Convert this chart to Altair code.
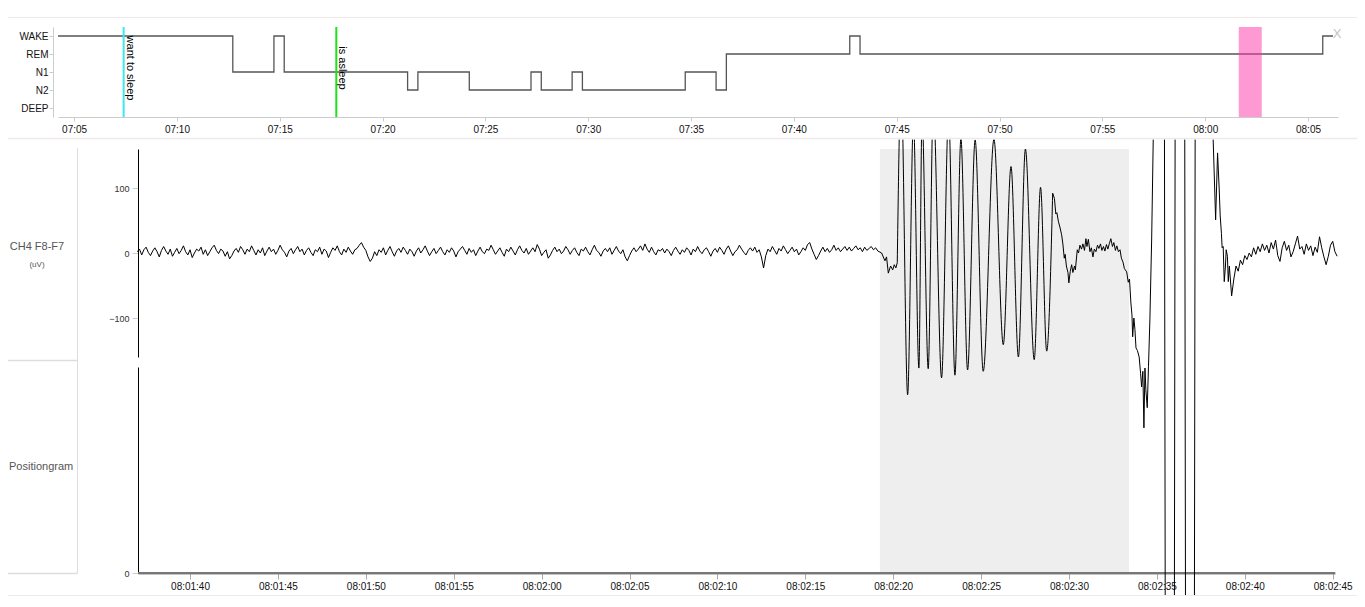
import altair as alt
import pandas as pd

FONT = "Liberation Sans"
W, H = 1349, 591
DAY = "2024-01-01"

# ---------------- hypnogram (top panel) ----------------
hyp_times = ["07:04:13", "07:12:43", "07:14:43", "07:15:13", "07:21:13", "07:21:43",
             "07:24:13", "07:27:13", "07:27:43", "07:29:13", "07:29:43", "07:34:43",
             "07:36:13", "07:36:43", "07:42:43", "07:43:13", "08:05:43", "08:06:13"]
hyp_stages = ["WAKE", "N1", "WAKE", "N1", "N2", "N1",
              "N2", "N1", "N2", "N1", "N2", "N1",
              "N2", "REM", "WAKE", "REM", "WAKE", "WAKE"]
stage_order = ["WAKE", "REM", "N1", "N2", "DEEP"]

marker_times = ["07:07:24.500", "07:17:45.000"]
marker_labels = ["want to sleep", "is asleep"]
marker_colors = ["#3de6f0", "#1be21b"]

top_window = ["08:01:38.000", "08:02:45.000"]
top_tick_minutes = [(7, 5), (7, 10), (7, 15), (7, 20), (7, 25), (7, 30), (7, 35),
                    (7, 40), (7, 45), (7, 50), (7, 55), (8, 0), (8, 5)]
low_tick_seconds = [(1, 40), (1, 45), (1, 50), (1, 55), (2, 0), (2, 5), (2, 10),
                    (2, 15), (2, 20), (2, 25), (2, 30), (2, 35), (2, 40), (2, 45)]

# ---------------- EEG CH4 F8-F7 (uV), seconds relative to 08:02:20 ----------------
eeg_base_start_s = -43.0
eeg_step_s = 0.125
eeg_base_uv = [
    2, 6, -3, 5, 9, 1, -4, 3, 8, 2, -6, 4, 10, 3, -2, 6, -5, 1, 7, -1,
    4, 11, 2, -3, 5, -7, 0, 6, 3, 9, -2, 5, -4, 2, 8, 12, 4, -1, 6, 3,
    -5, 2, -9, -4, 3, 7, 1, 10, 5, -2, 6, 2, 11, 4, -3, 5, 0, 8, -4, 3,
    9, 2, 6, -2, 4, 12, 5, 1, -6, 3, 7, -1, 5, 10, 2, 6, -3, 4, 8, 1,
    -4, 5, 2, 9, -2, 6, 3, -7, 1, 8, 4, 11, 2, -3, 6, 1, 9, 3, -2, 5,
    7, 12, 16, 9, 4, -6, -13, -8, 2, -4, 5, 1, 8, -3, 4, 10, 2, -5, 3, 7,
    1, 9, 4, -2, 6, 2, -5, 3, 8, 0, 5, 11, 3, -4, 2, 7, -1, 4, 9, 2,
    -3, 5, 1, 8, 3, -6, 2, 6, 10, 4, -2, 7, 1, 5, -4, 3, 9, 2, -1, 6,
    4, 12, 5, -2, 3, 8, 1, -5, 6, 2, 9, 3, -3, 5, 11, 4, 0, 7, -2, 3,
    8, 2, 13, 6, -4, 1, 5, -8, -3, 4, 9, 2, 6, -1, 3, 10, 5, -2, 4, 8,
    1, -4, 6, 3, 9, 2, -3, 5, 12, 4, 1, -5, 3, 7, 2, 8, -2, 4, 10, 3,
    -1, 5, -6, -12, -4, 3, 8, 2, 6, 11, 4, 14, 6, 1, 9, 2, -3, 5, 3, 7,
    0, 6, 2, -4, 4, 9, 3, -2, 5, 1, 8, 4, -3, 6, 2, 10, 3, -1, 5, 8,
    2, -5, 3, 7, 1, 9, 4, -2, 6, 11, 3, -4, 2, 5, 12, 6, 1, -3, 4, 8,
    3, 9, 1, 5, -6, -23, -4, 6, 2, 10, 4, -2, 7, 3, 11, 5, -1, 4, 9, 2,
    6, -3, 2, 8, 4, 13, 16, 6, -2, -10, -4, 3, 9, 2, 7, 1, 5, 12, 4, 8,
    2, 6, 10, 4, 9, 3, 7, 11, 5, 8, 2, 9, 4, 7, 10, 5, 8, 3]
eeg_pre_s = [-0.66, -0.47, -0.38, -0.28, -0.15, -0.03, 0.06, 0.15, 0.23]
eeg_pre_uv = [0, -12, -6, -31, -20, -26, -18, -23, -15]
eeg_osc_s = [0.23, 0.45, 0.82, 1.15, 1.46, 1.64, 1.99, 2.28, 2.75, 3.15, 3.51, 3.85,
             4.23, 4.66, 5.12, 5.73, 6.26, 6.70, 7.12, 7.52, 8.02, 8.38, 8.73, 9.07]
eeg_osc_uv = [-15, 260, -218, 205, -177, 210, -178, 230, -192, 215, -188, 176,
              -180, 174, -182, 175, -141, 133, -160, 160, -164, 101, -151, 92]
eeg_post_s = [9.07, 9.17, 9.25, 9.31, 9.40, 9.48, 9.58, 9.65, 9.73, 9.78, 9.85, 9.94,
              9.99, 10.07, 10.15, 10.22, 10.31, 10.36, 10.47, 10.54, 10.62, 10.71, 10.79,
              10.88, 10.96, 11.02, 11.10, 11.19, 11.27, 11.36, 11.44, 11.53, 11.62, 11.70,
              11.79, 11.87, 11.96, 12.04, 12.13, 12.21, 12.30, 12.38, 12.47, 12.55, 12.64,
              12.72, 12.81, 12.90, 12.98, 13.07, 13.15, 13.28, 13.37, 13.44, 13.52, 13.58,
              13.62, 13.69, 13.75, 13.81, 13.89, 13.99, 14.07, 14.13, 14.20, 14.26, 14.32,
              14.37, 14.45, 14.52, 14.60, 14.70, 14.79, 15.14, 15.74, 16.31, 16.88, 17.45,
              18.20, 18.34, 18.45, 18.54, 18.60, 18.67, 18.71, 18.77, 18.83, 18.90, 18.94,
              19.01, 19.06, 19.12]
eeg_post_uv = [92, 84, 60, 62, 48, 40, 28, 14, -8, -2, -20, -30,
               -46, -28, -18, -30, -20, -26, 5, 0, 12, 6, 14,
               4, 22, 10, 21, 2, 8, -6, 6, 2, 12, 7,
               14, 4, 10, 3, 13, 6, 15, 22, 10, 16, 4,
               11, 2, 5, -8, -14, -24, -29, -45, -40, -77, -95,
               -129, -100, -118, -146, -150, -160, -185, -206, -182, -269, -177,
               -210, -238, -175, -103, 20, 174, 5000, -5000, 5000, -5000, 5000,
               174, 51, 154, 100, 57, 30, 8, 10, -44, -20, 5,
               -5, -44, -20]
eeg_tail_start_s = 19.25
eeg_tail_uv = [-66, -40, -20, -28, -11, -18, -4, -10, 0, -6, 8, -2, 10, 2, 14, 4,
               12, 0, 16, 6, 20, -4, -13, 8, 18, 4, 12, -6, 2, 14, 26, 6,
               10, -2, 14, 4, 11, -4, 9, 1, 25, 8, -6, -18, -5, 12, 18, 2, -5]

shade_s = [-0.76, 13.41]
pos_s = [-42.96, 25.13]
pos_v = [0, 0]

# ---------------- helpers ----------------
REF = pd.Timestamp(DAY + " 08:02:20")


def stamp(sec):
    return (REF + pd.Timedelta(seconds=float(sec))).strftime("%Y-%m-%dT%H:%M:%S.%f")[:-3]


def clock(hms):
    return DAY + "T" + hms


def dt(h, m, s, ms=0):
    return alt.DateTime(year=2024, month=1, date=1, hours=h, minutes=m, seconds=s, milliseconds=ms)


def P(v):  # page pixel -> plot pixel (page margin 8px)
    return v - 8


top_x = alt.Scale(domain=[dt(7, 4, 13), dt(8, 6, 27, 500)], range=[P(58), P(1338)], nice=False)
stage_y = alt.Scale(type="point", domain=stage_order, range=[P(27), P(117)], padding=0.5)
top_py = alt.Scale(domain=[0, 1], range=[P(117), P(27)], nice=False, zero=False)

low_x = alt.Scale(domain=[dt(8, 1, 37, 40), dt(8, 2, 45, 130)], range=[P(138), P(1335)], nice=False)
eeg_y = alt.Scale(domain=[-160, 160], range=[P(357), P(149)], nice=False, zero=False)
pos_y = alt.Scale(domain=[0, 1], range=[P(573), P(367)], nice=False, zero=False)
low_py = alt.Scale(domain=[0, 1], range=[P(573), P(149)], nice=False, zero=False)

# ---------------- tables ----------------
hyp_df = pd.DataFrame({"t": [clock(t) for t in hyp_times], "stage": hyp_stages})
mark_df = pd.DataFrame({"t": [clock(t) for t in marker_times], "label": marker_labels,
                        "color": marker_colors, "y0": 0, "y1": 1, "ym": 0.5})
win_df = pd.DataFrame({"t0": [clock(top_window[0])], "t1": [clock(top_window[1])], "y0": [0], "y1": [1]})

seg_a_s = [eeg_base_start_s + i * eeg_step_s for i in range(len(eeg_base_uv))] + eeg_pre_s
seg_a_v = eeg_base_uv + eeg_pre_uv
seg_c_s = eeg_post_s + [eeg_tail_start_s + i * eeg_step_s for i in range(len(eeg_tail_uv))]
seg_c_v = eeg_post_uv + eeg_tail_uv
eeg_df = pd.DataFrame({
    "t": [stamp(s) for s in seg_a_s] + [stamp(s) for s in seg_c_s],
    "uv": seg_a_v + seg_c_v,
    "seg": ["a"] * len(seg_a_s) + ["c"] * len(seg_c_s),
})
osc_df = pd.DataFrame({"t": [stamp(s) for s in eeg_osc_s], "uv": eeg_osc_uv})
shade_df = pd.DataFrame({"t0": [stamp(shade_s[0])], "t1": [stamp(shade_s[1])], "y0": [0], "y1": [1]})
pos_df = pd.DataFrame({"t": [stamp(s) for s in pos_s], "v": pos_v})
one = pd.DataFrame({"k": [0]})

top_ticks = [dt(h, m, 0) for h, m in top_tick_minutes]
low_ticks = [dt(8, m, s) for m, s in low_tick_seconds]

# ---------------- layers ----------------
shade = alt.Chart(shade_df).mark_rect(color="#eeeeee").encode(
    x=alt.X("t0:T", scale=low_x, axis=None), x2="t1:T",
    y=alt.Y("y0:Q", scale=low_py, axis=None), y2="y1:Q")

pos_line = alt.Chart(pos_df).mark_line(color="#777777", strokeWidth=2).encode(
    x=alt.X("t:T", scale=low_x, axis=alt.Axis(
        orient="bottom", offset=P(573) - H, format="%H:%M:%S",
        values=low_ticks, title=None, grid=False,
        domainColor="#888888", domainWidth=2, tickColor="#aaaaaa", tickSize=6,
        labelPadding=2, labelFontSize=10, labelColor="#111111", labelFont=FONT,
        labelFlush=False, labelOverlap=False)),
    y=alt.Y("v:Q", scale=pos_y, axis=alt.Axis(
        orient="left", offset=-P(138), values=[0], title=None, grid=False,
        domainColor="#000000", tickColor="#cccccc", tickSize=6, labelPadding=3,
        labelFontSize=9, labelColor="#333333", labelFont=FONT)))

eeg = alt.Chart(eeg_df).mark_line(color="#000000", strokeWidth=1).encode(
    x=alt.X("t:T", scale=low_x, axis=None),
    y=alt.Y("uv:Q", scale=eeg_y, axis=alt.Axis(
        orient="left", offset=-P(138), values=[-100, 0, 100], title=None, grid=False,
        domainColor="#000000", tickColor="#cccccc", tickSize=6, labelPadding=3,
        labelFontSize=9, labelColor="#333333", labelFont=FONT)),
    detail="seg:N")

osc = alt.Chart(osc_df).mark_line(color="#000000", strokeWidth=1, interpolate="monotone").encode(
    x=alt.X("t:T", scale=low_x, axis=None),
    y=alt.Y("uv:Q", scale=eeg_y, axis=None))

cover_top = alt.Chart(one).mark_rect(color="white").encode(
    x=alt.value(0), x2=alt.value(W), y=alt.value(0), y2=alt.value(P(139.5)))
cover_bot = alt.Chart(one).mark_rect(color="white").encode(
    x=alt.value(0), x2=alt.value(W), y=alt.value(P(596)), y2=alt.value(H))


def hline(y, x0, x1, color, width=1.0):
    return alt.Chart(one).mark_rule(color=color, strokeWidth=width).encode(
        x=alt.value(x0), x2=alt.value(x1), y=alt.value(y))


def vline(x, y0, y1, color, width=1.0):
    return alt.Chart(one).mark_rule(color=color, strokeWidth=width).encode(
        x=alt.value(x), y=alt.value(y0), y2=alt.value(y1))


sep1 = hline(P(17.5), 0, W, "#efe9e9")
sep2 = hline(P(138.5), 0, W, "#efe9e9", 1.5)
sep3 = hline(P(595.5), 0, W, "#efe9e9")

hyp = alt.Chart(hyp_df).mark_line(color="#555555", strokeWidth=1.3, interpolate="step-after").encode(
    x=alt.X("t:T", scale=top_x, axis=alt.Axis(
        orient="bottom", offset=P(117) - H, format="%H:%M",
        values=top_ticks, title=None, grid=False,
        domainColor="#cccccc", tickColor="#cccccc", tickSize=4, labelPadding=3,
        labelFontSize=10, labelColor="#111111", labelFont=FONT, labelFlush=False,
        labelOverlap=False, zindex=1)),
    y=alt.Y("stage:N", scale=stage_y, axis=alt.Axis(
        orient="left", offset=-P(53), title=None, grid=False,
        domainColor="#cccccc", tickColor="#cccccc", tickSize=4, labelPadding=1,
        labelFontSize=10, labelColor="#111111", labelFont=FONT, zindex=1)))

rules = alt.Chart(mark_df).mark_rule(strokeWidth=2).encode(
    x=alt.X("t:T", scale=top_x, axis=None),
    y=alt.Y("y0:Q", scale=top_py, axis=None), y2="y1:Q",
    color=alt.Color("color:N", scale=None))

labels = alt.Chart(mark_df).mark_text(
    angle=90, align="center", baseline="alphabetic", dx=-4, dy=-3,
    fontSize=11, font=FONT, color="#000000").encode(
    x=alt.X("t:T", scale=top_x, axis=None),
    y=alt.Y("ym:Q", scale=top_py, axis=None),
    text="label:N")

window = alt.Chart(win_df).mark_rect(color="#ff33aa", opacity=0.5).encode(
    x=alt.X("t0:T", scale=top_x, axis=None), x2="t1:T",
    y=alt.Y("y0:Q", scale=top_py, axis=None), y2="y1:Q")

close_x = alt.Chart(one).mark_text(text="X", fontSize=13, font=FONT, color="#c4c4c4",
                                   align="center", baseline="middle").encode(
    x=alt.value(P(1337)), y=alt.value(P(34)))

ch_label = alt.Chart(one).mark_text(text="CH4 F8-F7", fontSize=11, font=FONT, color="#555555",
                                    align="center", baseline="middle").encode(
    x=alt.value(P(37)), y=alt.value(P(247)))
unit_label = alt.Chart(one).mark_text(text="(uV)", fontSize=8, font=FONT, color="#555555",
                                      align="center", baseline="middle").encode(
    x=alt.value(P(37)), y=alt.value(P(265)))
pos_label = alt.Chart(one).mark_text(text="Positiongram", fontSize=11, font=FONT, color="#555555",
                                     align="left", baseline="middle").encode(
    x=alt.value(P(9)), y=alt.value(P(467)))

panel_v = vline(P(77.5), P(148), P(573.5), "#dddddd")
panel_h1 = hline(P(360.5), 0, P(77.5), "#dddddd", 1.5)
panel_h2 = hline(P(573.5), 0, P(77.5), "#dddddd", 1.5)

chart = alt.layer(
    shade, pos_line, eeg, osc, cover_top, cover_bot, sep1, sep2, sep3,
    hyp, rules, labels, window, close_x,
    ch_label, unit_label, pos_label, panel_v, panel_h1, panel_h2,
).resolve_scale(x="independent", y="independent").properties(
    width=W, height=H, padding=0,
    autosize=alt.AutoSizeParams(type="none"),
).configure_view(stroke=None)

chart.save("out.html", embed_options={"renderer": "svg", "actions": False})
